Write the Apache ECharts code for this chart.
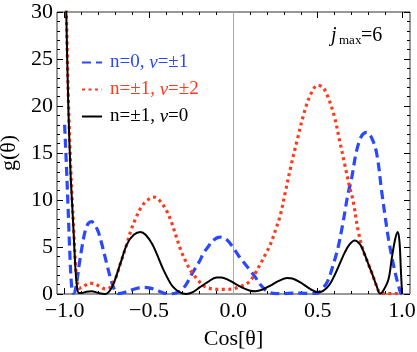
<!DOCTYPE html>
<html>
<head>
<meta charset="utf-8">
<script src="https://cdn.jsdelivr.net/npm/echarts@6/dist/echarts.min.js"></script>
<style>
	html,body{margin:0;padding:0;background:#fff;}
	#main{width:417px;height:352px;}
</style>
</head>
<body>
<div id="main"></div>
<script>
// values
var blueX = [-1.0,-0.99,-0.98,-0.97,-0.96,-0.95,-0.94,-0.925,-0.913,-0.895,-0.878,-0.86,-0.84,-0.82,-0.8,-0.775,-0.75,-0.725,-0.7,-0.68,-0.64,-0.6,-0.56,-0.53,-0.5,-0.46,-0.42,-0.38,-0.34,-0.31,-0.28,-0.25,-0.2,-0.175,-0.15,-0.12,-0.08,-0.04,0.0,0.03,0.06,0.1,0.13,0.16,0.2,0.25,0.3,0.35,0.4,0.45,0.5,0.53,0.56,0.59,0.62,0.65,0.68,0.7,0.73,0.76,0.79,0.82,0.85,0.88,0.9,0.92,0.94,0.96,0.98,0.99,1.0];
var blueY = [18,14,9.5,4.8,1.2,0.1,0.2,1.6,3.2,5.2,6.7,7.5,7.7,7.3,6.6,5.0,3.2,1.5,0.3,0.05,0.2,0.45,0.65,0.7,0.65,0.45,0.15,0.0,0.1,0.4,1.0,2.0,3.5,4.4,5.0,5.7,6.05,5.8,4.9,4.1,3.4,2.5,1.8,1.0,0.3,0.05,0.05,0.1,0.1,0.05,0.1,0.6,1.4,3.0,4.9,7.6,10.7,12.2,15.2,16.8,17.2,16.6,14.9,10.8,8.2,5.8,3.9,2.2,0.8,0.2,0];

var redX = [-1.0,-0.99,-0.978,-0.965,-0.955,-0.945,-0.935,-0.925,-0.915,-0.9,-0.87,-0.85,-0.82,-0.79,-0.76,-0.73,-0.7,-0.67,-0.64,-0.61,-0.58,-0.54,-0.5,-0.47,-0.44,-0.4,-0.37,-0.34,-0.31,-0.28,-0.25,-0.21,-0.18,-0.14,-0.1,-0.05,0.0,0.04,0.07,0.1,0.13,0.16,0.19,0.22,0.25,0.28,0.31,0.34,0.38,0.42,0.46,0.5,0.53,0.56,0.6,0.63,0.66,0.69,0.71,0.74,0.77,0.8,0.83,0.85,0.87,0.9,0.95,1.0];
var redY = [40,30.5,21,14,10,6.5,3,1.2,0.6,0.7,1.0,1.15,1.05,0.8,0.55,0.7,1.6,3.2,4.8,6.6,8.0,9.4,10.1,10.3,10.0,9.0,7.8,6.2,4.6,3.4,2.4,1.5,0.9,0.6,0.5,0.5,0.55,0.8,1.0,1.4,2.2,3.2,4.2,5.3,6.8,8.5,11.0,13.5,16.5,19.3,21.3,22.2,22.0,21.0,18.8,16.3,13.8,11.3,9.9,6.7,4.6,3.2,1.8,0.8,0.1,0.05,0.05,0];

var blackX = [-1.0,-0.99,-0.978,-0.965,-0.955,-0.945,-0.935,-0.925,-0.915,-0.9,-0.87,-0.84,-0.8,-0.76,-0.72,-0.67,-0.63,-0.59,-0.55,-0.52,-0.48,-0.45,-0.42,-0.39,-0.36,-0.32,-0.28,-0.24,-0.2,-0.15,-0.1,-0.07,-0.03,0.0,0.05,0.1,0.13,0.17,0.22,0.27,0.32,0.35,0.4,0.45,0.5,0.53,0.57,0.6,0.63,0.66,0.69,0.72,0.75,0.77,0.8,0.83,0.85,0.87,0.89,0.92,0.94,0.96,0.975,0.985,0.993,1.0];
var blackY = [40,30,20,13,9.5,6,2.5,0.6,0.1,0.1,0.25,0.3,0.1,0.0,0.7,3.2,5.3,6.3,6.6,6.3,5.3,4.1,2.8,1.7,0.8,0.2,0.0,0.2,0.7,1.3,1.75,1.75,1.5,1.2,0.7,0.35,0.3,0.45,0.9,1.4,1.7,1.65,1.2,0.6,0.2,0.3,1.0,2.0,3.2,4.4,5.3,5.7,5.3,4.6,3.2,1.8,0.8,0.05,0.4,1.6,3.9,5.9,6.6,5.5,2.5,0];

var names = ['n=0, ν=±1','n=±1, ν=±2','n=±1, ν=0'];
var xTicks = [-1.0,-0.5,0.0,0.5,1.0];
var xMinor = [-0.9,-0.8,-0.7,-0.6,-0.4,-0.3,-0.2,-0.1,0.1,0.2,0.3,0.4,0.6,0.7,0.8,0.9];

var serif = 'Liberation Serif';
var blue = '#2a48ff', red = '#ff3a1c';

function pairs(xs, ys){
	var out = [];
	for (var i = 0; i < xs.length; i++) out.push([xs[i], ys[i]]);
	return out;
}

// frame axes: major/minor ticks on every side, pointing in
function xAx(pos, vals, len, labels){
	return {
		type:'value', position:pos, min:-1.045, max:1.047,
		axisLine:{show:false, onZero:false},
		splitLine:{show:false},
		axisTick:{show:true, inside:true, length:len, customValues:vals, lineStyle:{color:'#000'}},
		axisLabel:labels ? {
			show:true, customValues:vals, margin:6,
			fontFamily:serif, fontSize:22, color:'#000',
			formatter:function(v){ return (v < 0 ? '\u2212' : '') + Math.abs(v).toFixed(1); }
		} : {show:false}
	};
}

function yAx(pos, labels){
	return {
		type:'value', position:pos, min:0, max:30, interval:5,
		axisLine:{show:false, onZero:false}, splitLine:{show:false},
		axisTick:{show:true, inside:true, length:6, lineStyle:{color:'#000'}},
		minorTick:{show:true, splitNumber:5, length:3, lineStyle:{color:'#000'}},
		axisLabel:labels ? {margin:4, fontFamily:serif, fontSize:22, color:'#000'} : {show:false}
	};
}

var myChart = echarts.init(document.getElementById('main'));
var option = {
	animation:false,
	grid:{left:57, right:7, top:12, bottom:58, outerBoundsMode:'none', show:true, borderColor:'#333', borderWidth:1, backgroundColor:'transparent'},
	legend:{
		orient:'vertical', left:76, top:48, itemWidth:20, itemHeight:12, itemGap:8,
		itemStyle:{opacity:0},
		textStyle:{fontFamily:serif, fontSize:19, padding:[0,0,0,3], rich:{i:{fontStyle:'italic', fontFamily:serif, fontSize:19}}},
		formatter:function(n){ return n.replace('ν', '{i|ν}'); },
		data:[
			{name:names[0], textStyle:{color:blue}},
			{name:names[1], textStyle:{color:red}},
			{name:names[2], textStyle:{color:'#000'}}
		]
	},
	xAxis:[
		Object.assign(xAx('bottom', xTicks, 6, true), {
			name:'Cos[θ]', nameLocation:'middle', nameGap:34,
			nameTextStyle:{fontFamily:serif, fontSize:22, color:'#000'}
		}),
		xAx('bottom', xMinor, 3, false),
		xAx('top', xTicks, 6, false),
		xAx('top', xMinor, 3, false)
	],
	yAxis:[
		Object.assign(yAx('left', true), {
			name:'g(θ)', nameLocation:'middle', nameGap:35,
			nameTextStyle:{fontFamily:serif, fontSize:22, color:'#000'}
		}),
		yAx('right', false)
	],
	graphic:[
		{type:'text', left:331, top:26, style:{text:'j', font:'italic 20px "Liberation Serif"', fill:'#000'}},
		{type:'text', left:339, top:34, style:{text:'max', font:'13px "Liberation Serif"', fill:'#000'}},
		{type:'text', left:361, top:26, style:{text:'=6', font:'20px "Liberation Serif"', fill:'#000'}}
	],
	series:[
		{
			name:names[0], type:'line', showSymbol:false, symbol:'none', smooth:0.35, clip:true, z:3,
			data:pairs(blueX, blueY),
			lineStyle:{color:blue, width:3.2, type:[9,5], cap:'butt'},
			itemStyle:{color:blue},
			markLine:{
				silent:true, symbol:'none', label:{show:false}, z:1,
				lineStyle:{color:'#aaa', width:1, type:'solid'},
				emphasis:{disabled:true},
				data:[{xAxis:0, lineStyle:{color:'#aaa', type:'solid', width:1}}]
			}
		},
		{
			name:names[1], type:'line', showSymbol:false, symbol:'none', smooth:0.35, clip:true, z:4,
			data:pairs(redX, redY),
			lineStyle:{color:red, width:3.2, type:[3,3.5], cap:'butt'},
			itemStyle:{color:red}
		},
		{
			name:names[2], type:'line', showSymbol:false, symbol:'none', smooth:0.35, clip:true, z:5,
			data:pairs(blackX, blackY),
			lineStyle:{color:'#000', width:2},
			itemStyle:{color:'#000'}
		}
	]
};
myChart.setOption(option);
</script>
</body>
</html>
